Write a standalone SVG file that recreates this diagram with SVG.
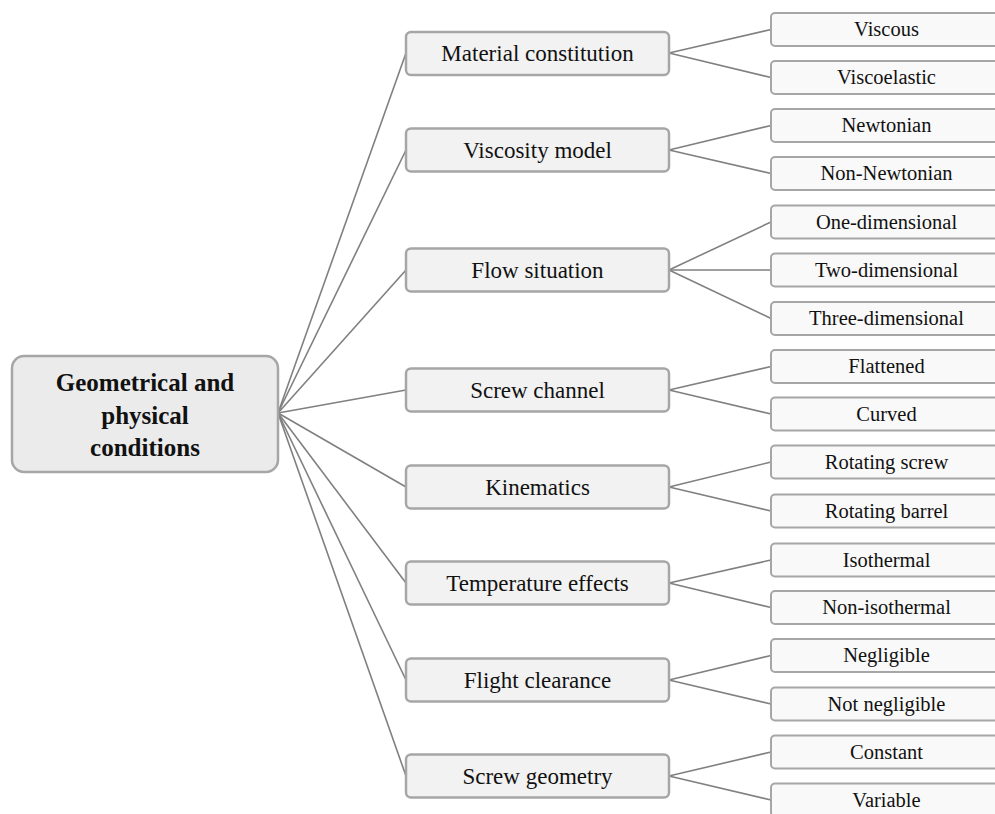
<svg xmlns="http://www.w3.org/2000/svg" width="995" height="814" viewBox="0 0 995 814">
<style>
.root{fill:#ebebeb;stroke:#a6a6a6;stroke-width:2.5}
.mid{fill:#f2f2f2;stroke:#a6a6a6;stroke-width:2.5}
.leaf{fill:#f9f9f9;stroke:#a6a6a6;stroke-width:2}
text{font-family:"Liberation Serif","Times New Roman",serif;fill:#111;text-anchor:middle}
.rt{font-size:25px;font-weight:bold}
.mt{font-size:23px}
.lt{font-size:20.5px}
#connectors line{stroke:#808080;stroke-width:1.6}
</style>
<rect width="995" height="814" fill="#ffffff"/>
<g id="connectors">
<line x1="278" y1="413" x2="406" y2="53"/>
<line x1="278" y1="413" x2="406" y2="150"/>
<line x1="278" y1="413" x2="406" y2="270"/>
<line x1="278" y1="413" x2="406" y2="390"/>
<line x1="278" y1="413" x2="406" y2="487"/>
<line x1="278" y1="413" x2="406" y2="583"/>
<line x1="278" y1="413" x2="406" y2="680"/>
<line x1="278" y1="413" x2="406" y2="776"/>
<line x1="669" y1="53" x2="771" y2="29.5"/>
<line x1="669" y1="53" x2="771" y2="77.5"/>
<line x1="669" y1="150" x2="771" y2="125.5"/>
<line x1="669" y1="150" x2="771" y2="173.5"/>
<line x1="669" y1="270" x2="771" y2="222"/>
<line x1="669" y1="270" x2="771" y2="270"/>
<line x1="669" y1="270" x2="771" y2="318.5"/>
<line x1="669" y1="390" x2="771" y2="366.5"/>
<line x1="669" y1="390" x2="771" y2="414"/>
<line x1="669" y1="487" x2="771" y2="462"/>
<line x1="669" y1="487" x2="771" y2="511"/>
<line x1="669" y1="583" x2="771" y2="560"/>
<line x1="669" y1="583" x2="771" y2="607.5"/>
<line x1="669" y1="680" x2="771" y2="655.5"/>
<line x1="669" y1="680" x2="771" y2="704"/>
<line x1="669" y1="776" x2="771" y2="752"/>
<line x1="669" y1="776" x2="771" y2="800"/>
</g>
<g id="root">
<rect class="root" x="12" y="356" width="266" height="116" rx="12"/>
<text class="rt" x="145" y="391">Geometrical and</text>
<text class="rt" x="145" y="424">physical</text>
<text class="rt" x="145" y="456">conditions</text>
</g>
<g id="m1"><rect class="mid" x="406" y="32" width="263" height="43" rx="5"/><text class="mt" x="537.5" y="61">Material constitution</text></g>
<g id="m2"><rect class="mid" x="406" y="128.5" width="263" height="43" rx="5"/><text class="mt" x="537.5" y="158">Viscosity model</text></g>
<g id="m3"><rect class="mid" x="406" y="248.5" width="263" height="43" rx="5"/><text class="mt" x="537.5" y="278">Flow situation</text></g>
<g id="m4"><rect class="mid" x="406" y="368.5" width="263" height="43" rx="5"/><text class="mt" x="537.5" y="398">Screw channel</text></g>
<g id="m5"><rect class="mid" x="406" y="465.5" width="263" height="43" rx="5"/><text class="mt" x="537.5" y="495">Kinematics</text></g>
<g id="m6"><rect class="mid" x="406" y="561.5" width="263" height="43" rx="5"/><text class="mt" x="537.5" y="591">Temperature effects</text></g>
<g id="m7"><rect class="mid" x="406" y="658.5" width="263" height="43" rx="5"/><text class="mt" x="537.5" y="688">Flight clearance</text></g>
<g id="m8"><rect class="mid" x="406" y="754.5" width="263" height="43" rx="5"/><text class="mt" x="537.5" y="784">Screw geometry</text></g>
<g id="l1"><rect class="leaf" x="771" y="13" width="232" height="33" rx="4"/><text class="lt" x="886.5" y="36">Viscous</text></g>
<g id="l2"><rect class="leaf" x="771" y="61" width="232" height="33" rx="4"/><text class="lt" x="886.5" y="84">Viscoelastic</text></g>
<g id="l3"><rect class="leaf" x="771" y="109" width="232" height="33" rx="4"/><text class="lt" x="886.5" y="132">Newtonian</text></g>
<g id="l4"><rect class="leaf" x="771" y="157" width="232" height="33" rx="4"/><text class="lt" x="886.5" y="180">Non-Newtonian</text></g>
<g id="l5"><rect class="leaf" x="771" y="205.5" width="232" height="33" rx="4"/><text class="lt" x="886.5" y="228.5">One-dimensional</text></g>
<g id="l6"><rect class="leaf" x="771" y="253.5" width="232" height="33" rx="4"/><text class="lt" x="886.5" y="276.5">Two-dimensional</text></g>
<g id="l7"><rect class="leaf" x="771" y="302" width="232" height="33" rx="4"/><text class="lt" x="886.5" y="325">Three-dimensional</text></g>
<g id="l8"><rect class="leaf" x="771" y="350" width="232" height="33" rx="4"/><text class="lt" x="886.5" y="373">Flattened</text></g>
<g id="l9"><rect class="leaf" x="771" y="397.5" width="232" height="33" rx="4"/><text class="lt" x="886.5" y="420.5">Curved</text></g>
<g id="l10"><rect class="leaf" x="771" y="445.5" width="232" height="33" rx="4"/><text class="lt" x="886.5" y="468.5">Rotating screw</text></g>
<g id="l11"><rect class="leaf" x="771" y="494.5" width="232" height="33" rx="4"/><text class="lt" x="886.5" y="517.5">Rotating barrel</text></g>
<g id="l12"><rect class="leaf" x="771" y="543.5" width="232" height="33" rx="4"/><text class="lt" x="886.5" y="566.5">Isothermal</text></g>
<g id="l13"><rect class="leaf" x="771" y="591" width="232" height="33" rx="4"/><text class="lt" x="886.5" y="614">Non-isothermal</text></g>
<g id="l14"><rect class="leaf" x="771" y="639" width="232" height="33" rx="4"/><text class="lt" x="886.5" y="662">Negligible</text></g>
<g id="l15"><rect class="leaf" x="771" y="687.5" width="232" height="33" rx="4"/><text class="lt" x="886.5" y="710.5">Not negligible</text></g>
<g id="l16"><rect class="leaf" x="771" y="735.5" width="232" height="33" rx="4"/><text class="lt" x="886.5" y="758.5">Constant</text></g>
<g id="l17"><rect class="leaf" x="771" y="783.5" width="232" height="33" rx="4"/><text class="lt" x="886.5" y="806.5">Variable</text></g>
</svg>
